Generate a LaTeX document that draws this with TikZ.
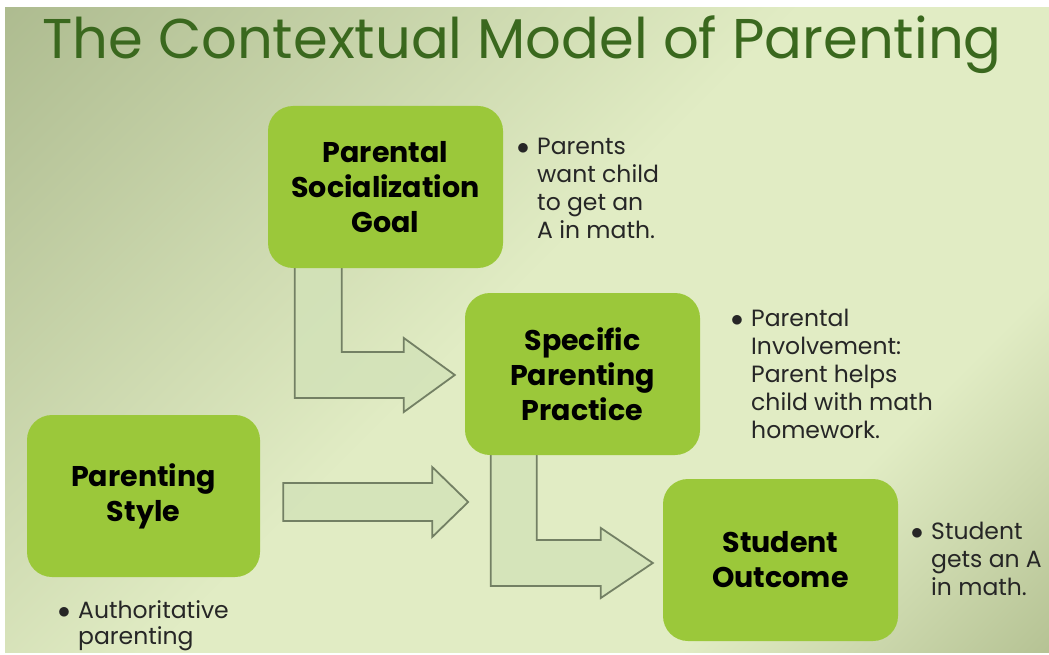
\documentclass[tikz,border=0pt]{standalone}
\usepackage{fontspec}
\setmainfont{Poppins}
\usetikzlibrary{calc,positioning,backgrounds}

\definecolor{bgdark}{RGB}{170,184,140}
\definecolor{bglight}{RGB}{225,236,196}
\definecolor{bgdarker}{RGB}{158,172,122}
\definecolor{titlegreen}{RGB}{58,104,30}
\definecolor{boxgreen}{RGB}{155,200,58}
\definecolor{arrowline}{RGB}{115,128,100}
\definecolor{arrowfill}{RGB}{210,226,184}

\pgfdeclarehorizontalshading{slidebg}{100bp}{color(0bp)=(bgdark); color(12bp)=(bgdark); color(48bp)=(bglight); color(70bp)=(bglight); color(94bp)=(bgdarker); color(100bp)=(bgdarker)}

\pgfdeclarelayer{bg}
\pgfdeclarelayer{arrows}
\pgfsetlayers{bg,arrows,main}

\tikzset{box/.style={rectangle, rounded corners=25pt, fill=boxgreen,
                     minimum width=235pt, minimum height=162pt, align=center,
                     font=\fontsize{28.5}{35}\selectfont\bfseries, text=black},
         note/.style={align=left, anchor=north west, inner sep=0pt,
                      font=\fontsize{23.5}{28}\selectfont, text=black!85},
         blockarrow/.style={draw=arrowline, line width=1.8pt, fill=arrowfill,
                            fill opacity=0.8, line join=miter}}
\newcommand{\bul}{\makebox[0pt][r]{$\bullet$\hspace{8pt}}}

\begin{document}
\begin{tikzpicture}[x=1pt, y=-1pt]
		\useasboundingbox (0,0) rectangle (1049,655);
		\begin{pgfonlayer}{bg}
			\shade[shading=slidebg, shading angle=-45] (5,8) rectangle (1049,652);
		\end{pgfonlayer}

		\node[anchor=base west, inner sep=0pt, text=titlegreen,
		      font=\fontsize{56}{68}\selectfont] (title) at (42,59) {The Contextual Model of Parenting};

		\node[box] (goal) at (385.5,187) {Parental\\Socialization\\Goal};
		\node[box] (practice) at (582.5,374) {Specific\\Parenting\\Practice};
		\node[box, minimum width=233pt] (style) at (143.5,496) {Parenting\\Style};
		\node[box] (outcome) at (780.5,560) {Student\\Outcome};

		\node[note] (goalnote) at (537,138) {\bul Parents\\want child\\to get an\\A in math.};
		\node[note] (practicenote) at (751,309) {\bul Parental\\Involvement:\\Parent helps\\child with math\\homework.};
		\node[note] (outcomenote) at (931,522) {\bul Student\\gets an A\\in math.};
		\node[note, font=\fontsize{23.5}{26}\selectfont] (stylenote) at (78,600) {\bul Authoritative\\parenting};

		\begin{pgfonlayer}{arrows}
			% goal -> practice
			\draw[blockarrow] ($(goal.south west)+(27,-4)$) |- ($(practice.west)+(-61,24)$) -- ++(0,14)
			      -- ($(practice.west)+(-10,1)$) -- ++(-51,-37) -- ++(0,14) -| ($(goal.south west)+(74,-4)$) -- cycle;
			% style -> practice
			\draw[blockarrow] ($(style.east)+(23,-13)$) -- ($(style.east)+(172,-13)$) -- ++(0,-16)
			      -- ($(style.east)+(208,6)$) -- ++(-36,35) -- ++(0,-16) -- ($(style.east)+(23,25)$) -- cycle;
			% practice -> outcome
			\draw[blockarrow] ($(practice.south west)+(26,-4)$) |- ($(outcome.west)+(-62,26)$) -- ++(0,12)
			      -- ($(outcome.west)+(-10,3)$) -- ++(-52,-35) -- ++(0,12) -| ($(practice.south west)+(72,-4)$) -- cycle;
		\end{pgfonlayer}
\end{tikzpicture}
\end{document}
